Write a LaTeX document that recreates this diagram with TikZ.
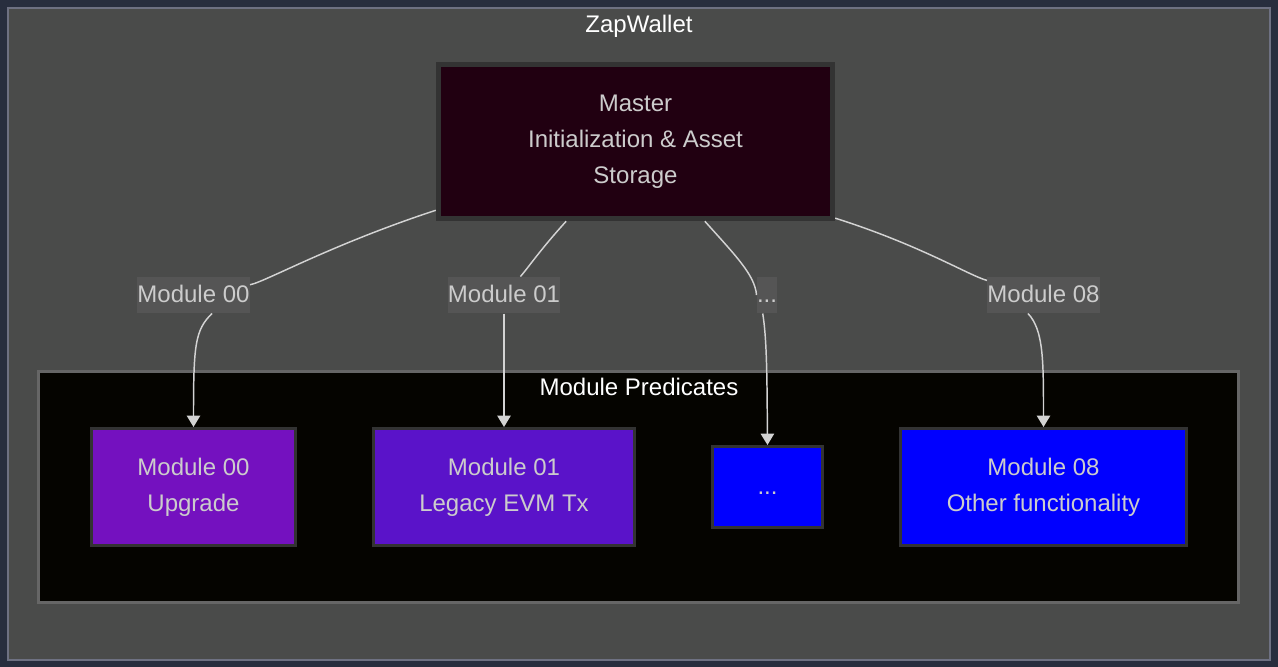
\documentclass[tikz,border=0pt]{standalone}
\usepackage{fontspec}
\setmainfont{Liberation Sans}
\usetikzlibrary{arrows.meta}
\definecolor{cnavy}{HTML}{282E3E}
\definecolor{cframe}{HTML}{6E7182}
\definecolor{cgroup}{HTML}{4A4B4A}
\definecolor{cinner}{HTML}{666666}
\definecolor{cblack}{HTML}{050400}
\definecolor{cborder}{HTML}{333333}
\definecolor{cmaster}{HTML}{210011}
\definecolor{cpurple}{HTML}{7411BF}
\definecolor{cviolet}{HTML}{5A13C9}
\definecolor{cblue}{HTML}{0000FF}
\definecolor{clabel}{HTML}{555555}
\definecolor{cline}{HTML}{D3D3D3}
\definecolor{ctext}{HTML}{CCCCCC}
\tikzset{
  every picture/.style={font=\fontsize{18}{27}\selectfont, line width=0.75pt},
  box/.style={draw=cborder, line width=2.25pt, fill=#1, text=ctext, align=center, inner sep=0pt},
  box/.default=cblue,
  oneline/.style={text height=13pt, text depth=1.4pt},
  lbl/.style={oneline, fill=clabel, text=ctext, inner sep=0pt, minimum height=27pt},
  link/.style={draw=cline, line width=1.1pt},
  arrow/.style={link, -{Triangle[length=8.5pt, width=10pt]}},
  title/.style={oneline, text=white},
}

\begin{document}
\begin{tikzpicture}[x=0.75pt, y=-0.75pt]
  \useasboundingbox[fill=cnavy] (0,0) rectangle (1278,667);
  % outer group
  \draw[cframe, line width=1.5pt, fill=cgroup] (8,8) rectangle (1270,660);
  \node[title] (wallet) at (639,25) {ZapWallet};
  \node[box=cmaster, line width=4.1pt, minimum width=295.5pt, minimum height=115.5pt] (master) at (635.5,141.5)
    {Master\\Initialization \& Asset\\Storage};
  % predicates group
  \draw[cinner, line width=2.25pt, fill=cblack] (38.5,371.5) rectangle (1238.5,602.5);
  \node[title] (preds) at (639,388) {Module Predicates};
  \node[box=cpurple, minimum width=153pt, minimum height=87.75pt] (m00) at (193.5,487) {Module 00\\Upgrade};
  \node[box=cviolet, minimum width=195.75pt, minimum height=87.75pt] (m01) at (504,487) {Module 01\\Legacy EVM Tx};
  \node[box, oneline, minimum width=82.5pt, minimum height=60.75pt] (mdots) at (767.5,487) {...};
  \node[box, minimum width=214.5pt, minimum height=87.75pt] (m08) at (1043.5,487) {Module 08\\Other functionality};
  % edge labels
  \node[lbl] (l00) at (193.5,295) {Module 00};
  \node[lbl] (l01) at (504,295) {Module 01};
  \node[lbl] (ldots) at (767,295) {...};
  \node[lbl] (l08) at (1043.5,295) {Module 08};
  % links
  \draw[link] (master.199) .. controls (330,245) and (265,282) .. (l00);
  \draw[arrow] (l00.315) .. controls (195,330) and (193.5,345) .. (m00.north);
  \draw[link] (master.229) .. controls (540,250) and (528,268) .. (l01);
  \draw[arrow] (l01.south) .. controls (504,360) .. (m01.north);
  \draw[link] (master.311) .. controls (735,255) and (755,275) .. (ldots.west);
  \draw[arrow] (ldots.257) .. controls (767,340) and (767,380) .. (mdots.north);
  \draw[link] (master.339) .. controls (920,245) and (970,276) .. (l08);
  \draw[arrow] (l08.230) .. controls (1043.5,330) and (1043.5,360) .. (m08.north);
\end{tikzpicture}
\end{document}
